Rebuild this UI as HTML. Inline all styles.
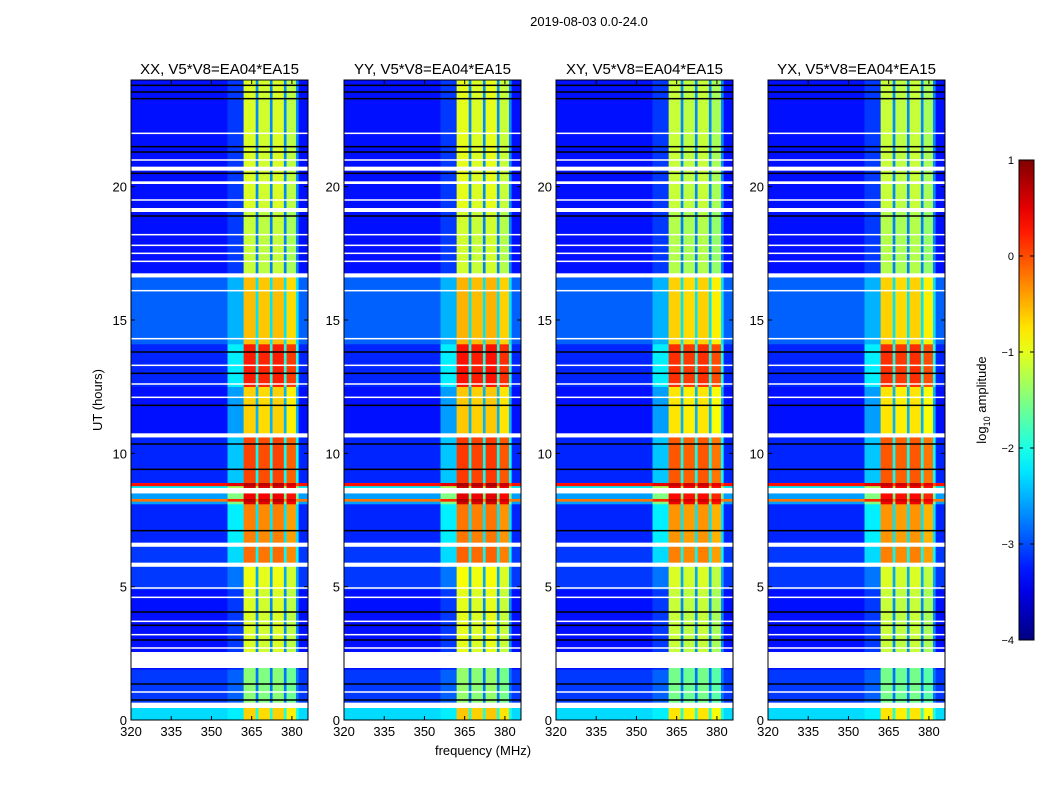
<!DOCTYPE html>
<html><head><meta charset="utf-8"><style>
body{margin:0;background:#fff;width:1050px;height:800px;overflow:hidden;font-family:"Liberation Sans",sans-serif}
svg text{font-family:"Liberation Sans",sans-serif}
</style></head><body>
<svg id="chart" width="1050" height="800" xmlns="http://www.w3.org/2000/svg">
<text x="589" y="26" font-size="13" text-anchor="middle">2019-08-03 0.0-24.0</text>
<text x="102" y="400" font-size="13" text-anchor="middle" transform="rotate(-90 102 400)">UT (hours)</text>
<text x="483" y="755" font-size="13" text-anchor="middle">frequency (MHz)</text>
<g id="panels"></g>
<g id="cbar"></g>
</svg>
<script>
const panelTitles=["XX, V5*V8=EA04*EA15","YY, V5*V8=EA04*EA15","XY, V5*V8=EA04*EA15","YX, V5*V8=EA04*EA15"];
const panelRfiOffset=[0,0.05,-0.1,-0.1];
const xTicks=[320,335,350,365,380];
const yTicks=[0,5,10,15,20];
const cbTicks=[1,0,-1,-2,-3,-4];
// time segments: start hour, end hour
const segStart=[0,0.65,1.9,2.55,4.9,5.9,6.65,8.1,8.2,8.3,8.7,8.78,8.9,10.75,12.5,14.1,16.75,19.2];
const segEnd=[0.45,1.9,1.95,4.9,5.75,6.5,8.1,8.2,8.3,8.5,8.78,8.9,10.6,12.5,14.1,16.6,19.05,24];
// log10 amplitudes: background, edge (355-362 MHz), rfi band
const segBg=[-2.3,-3.1,-3.3,-3.3,-3.1,-3.1,-3.2,-2.6,-0.2,-2.6,-2.2,0.3,-3.2,-3.3,-3.2,-2.9,-3.3,-3.3];
const segEdge=[-2.2,-2.9,-3.2,-3.1,-2.8,-2.3,-2.2,-1.5,0.2,-1.5,-1.3,0.5,-2.4,-2.6,-2.2,-2.5,-3.1,-3.1];
const segRfi=[-0.7,-1.5,-1.5,-1.1,-1.0,-0.2,-0.3,0.5,0.7,0.4,0.5,0.7,0.0,-0.7,0.2,-0.6,-1.2,-1.1];
// frequency bands
const bandStart=[320,350,356,362,366.5,367.5,371.8,372.8,377,378,381.5,382.5];
const bandEnd=[350,356,362,366.5,367.5,371.8,372.8,377,378,381.5,382.5,386];
const bandType=["bg","bg","edge","rfi","gap","rfi","gap","rfi","gap","rfi","gap","bg"];
const bandOffset=[0,0,0,0.05,0,0,0,0.05,0,-0.1,0,0];
const whiteBands=[[0.45,0.65],[1.95,2.55],[5.75,5.9],[6.5,6.65],[8.5,8.7],[10.6,10.75],[16.6,16.75],[19.05,19.2],[20.1,20.2],[20.6,20.75]];
const whiteLines=[1.05,2.7,3.2,3.7,4.6,4.95,12.1,12.6,13.3,14.3,16.1,17.2,17.5,17.8,18.2,19.5,21.0,22.0];
const blackLines=[0.75,1.35,3.0,3.55,4.05,7.1,9.4,10.35,11.8,13.0,13.8,18.9,20.5,21.3,21.5,23.3,23.55,23.8];

const NS="http://www.w3.org/2000/svg";
function el(t,a,p){const e=document.createElementNS(NS,t);for(const k in a)e.setAttribute(k,a[k]);p.appendChild(e);return e;}
function jet(v){let t=(v+4)/5;t=Math.max(0,Math.min(1,t));
 const r=Math.max(0,Math.min(1,1.5-Math.abs(4*t-3))),g=Math.max(0,Math.min(1,1.5-Math.abs(4*t-2))),b=Math.max(0,Math.min(1,1.5-Math.abs(4*t-1)));
 return `rgb(${Math.round(r*255)},${Math.round(g*255)},${Math.round(b*255)})`;}
const panelX=[131,344,556,768],PW=177,PT=80,PB=720;
const xs=(f,x0)=>x0+(f-320)/66*PW;
const ys=h=>PB-h/24*(PB-PT);
const panels=document.getElementById('panels');
panelTitles.forEach((title,p)=>{
 const x0=panelX[p];
 const g=el('g',{},panels);
 
 
 const t=el('text',{x:x0+PW/2,y:74,'font-size':15,'text-anchor':'middle'},g);t.textContent=title;
 
 
 segStart.forEach((s,i)=>{
  bandStart.forEach((fs,j)=>{
   let v,ty=bandType[j];
   if(ty==="bg")v=segBg[i];else if(ty==="edge")v=segEdge[i];
   else if(ty==="rfi")v=segRfi[i]+bandOffset[j]+panelRfiOffset[p];
   else v=(segBg[i]+segRfi[i])/2-0.5;
   const x1=xs(fs,x0),x2=xs(bandEnd[j],x0);
   const r=el('rect',{x:x1,y:ys(segEnd[i]),width:x2-x1+0.3,height:ys(s)-ys(segEnd[i])+0.3,fill:jet(v)},g);
   
   
  });
 });
 whiteBands.forEach(b=>{const r=el('rect',{x:x0,y:ys(b[1]),width:PW,height:ys(b[0])-ys(b[1]),fill:'#fff'},g);
  
  });
 whiteLines.forEach(h=>{const r=el('rect',{x:x0,y:ys(h)-0.75,width:PW,height:1.5,fill:'#fff'},g);
  
  });
 blackLines.forEach(h=>{const r=el('rect',{x:x0,y:ys(h)-0.75,width:PW,height:1.5,fill:'#000'},g);
  
  });
 const fr=el('rect',{x:x0,y:PT,width:PW,height:PB-PT,fill:'none',stroke:'#000','stroke-width':1},g);
 
 
 xTicks.forEach(f=>{const x=xs(f,x0);
  el('line',{x1:x,x2:x,y1:PB,y2:PB-4,stroke:'#000'},g);el('line',{x1:x,x2:x,y1:PT,y2:PT+4,stroke:'#000'},g);
  const tt=el('text',{x:x,y:PB+16,'font-size':13,'text-anchor':'middle'},g);tt.textContent=f;
  
  });
 yTicks.forEach(h=>{const y=ys(h);
  el('line',{x1:x0,x2:x0+4,y1:y,y2:y,stroke:'#000'},g);el('line',{x1:x0+PW,x2:x0+PW-4,y1:y,y2:y,stroke:'#000'},g);
  const tt=el('text',{x:x0-4,y:y+5,'font-size':13,'text-anchor':'end'},g);tt.textContent=h;
  
  });
});
// colorbar
const cb=document.getElementById('cbar');
const CX=1019,CW=15,CT=160,CB=640;
const defs=el('defs',{},cb);const lg=el('linearGradient',{id:'jetg',x1:0,y1:1,x2:0,y2:0},defs);
for(let i=0;i<=20;i++){el('stop',{offset:i/20,'stop-color':jet(-4+5*i/20)},lg);}
el('rect',{x:CX,y:CT,width:CW,height:CB-CT,fill:'url(#jetg)',stroke:'#000'},cb);
const cys=v=>CB-(v+4)/5*(CB-CT);
cbTicks.forEach(v=>{const y=cys(v);
 el('line',{x1:CX,x2:CX+4,y1:y,y2:y,stroke:'#000'},cb);el('line',{x1:CX+CW,x2:CX+CW-4,y1:y,y2:y,stroke:'#000'},cb);
 const tt=el('text',{x:CX-5,y:y+4,'font-size':11,'text-anchor':'end'},cb);tt.textContent=(v<0?'\u2212'+(-v):v);
 
 });
const cl=el('text',{x:986,y:400,'font-size':13,'text-anchor':'middle',transform:'rotate(-90 986 400)'},cb);


cl.innerHTML='log<tspan font-size="9" dy="4">10</tspan><tspan dy="-4"> amplitude</tspan>';
</script>
</body></html>
